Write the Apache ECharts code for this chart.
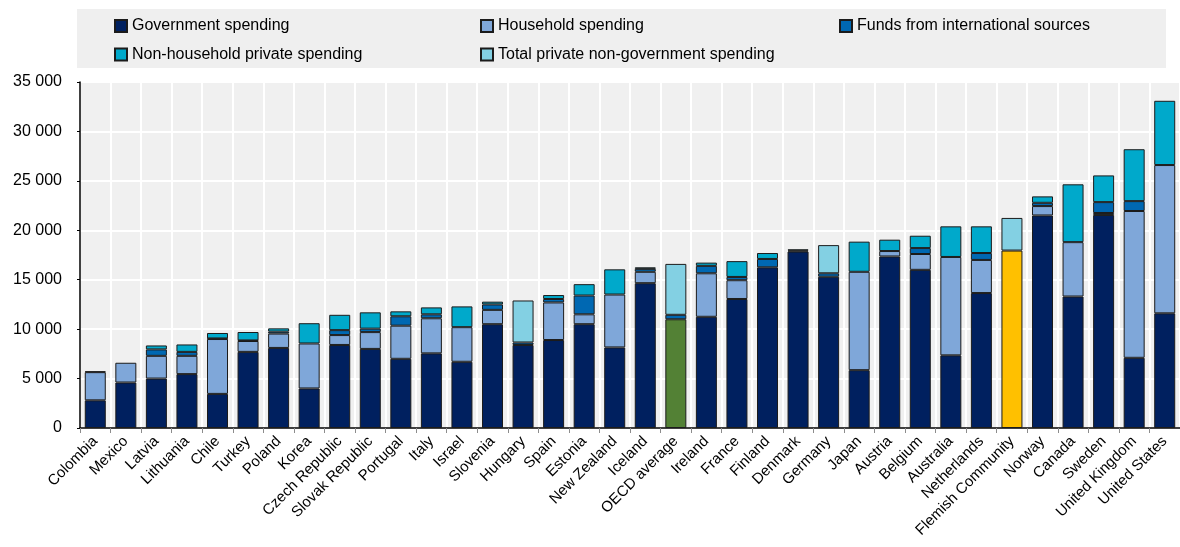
<!DOCTYPE html>
<html>
<head>
<meta charset="utf-8">
<script src="https://cdn.jsdelivr.net/npm/echarts@6/dist/echarts.min.js"></script>
<style>
  html, body { margin: 0; padding: 0; background: #fff; }
  #chart { width: 1180px; height: 547px; }
</style>
</head>
<body>
<div id="chart"></div>
<script>
// categories, left to right
var countries = ['Colombia', 'Mexico', 'Latvia', 'Lithuania', 'Chile', 'Turkey', 'Poland', 'Korea',
    'Czech Republic', 'Slovak Republic', 'Portugal', 'Italy', 'Israel', 'Slovenia', 'Hungary', 'Spain',
    'Estonia', 'New Zealand', 'Iceland', 'OECD average', 'Ireland', 'France', 'Finland', 'Denmark',
    'Germany', 'Japan', 'Austria', 'Belgium', 'Australia', 'Netherlands', 'Flemish Community', 'Norway',
    'Canada', 'Sweden', 'United Kingdom', 'United States'];

// series values
var govSpending = [2800, 4600, 5000, 5450, 3450, 7700, 8100, 4000, 8400, 8000, 7000, 7550, 6700, 10500, 8400, 8900,
    10500, 8150, 14650, 11000, 11250, 13050, 16250, 17850, 15300, 5850, 17350, 16000, 7350, 13650, 17950, 21500,
    13300, 21550, 7100, 11600];
var householdSpending = [2850, 2000, 2300, 1850, 5550, 1100, 1450, 4550, 1000, 1700, 3350, 3550, 3500, 1450, null, 3800,
    1000, 5350, 1150, null, 4400, 1900, null, null, null, 9950, 550, 1600, 9950, 3350, null, 950,
    5500, 200, 14850, 15000];
var intlFunds = [80, null, 650, 400, 60, 60, 200, null, 500, 350, 950, 400, null, 550, 250, 350,
    1900, null, 300, 450, 750, 330, 850, 100, 350, null, null, 600, null, 700, null, 330,
    null, 1100, 1000, null];
var nonHouseholdPrivate = [null, null, 400, 750, 550, 850, 330, 2050, 1550, 1650, 500, 700, 2100, 280, null, 400,
    1150, 2550, 150, null, 330, 1600, 600, 120, null, 3050, 1150, 1250, 3100, 2700, null, 650,
    5850, 2700, 5250, 6500];
var totalPrivateNonGov = [null, null, null, null, null, null, null, null, null, null, null, null, null, null, 4250, null,
    null, null, null, 5150, null, null, null, null, 2850, null, null, null, null, null, 3300, null,
    null, null, null, null];

// highlighted bars
var highlight = { 'OECD average': '#538135', 'Flemish Community': '#FFC000' };

var FONT = "'Liberation Sans', Arial, sans-serif";
var colGov = '#00205F';
var colHouse = '#7FA7D9';
var colFunds = '#0068B2';
var colNonHouse = '#00A9CB';
var colTotalPriv = '#83D0E3';

var myChart = echarts.init(document.getElementById('chart'));

function stackSeries(name, color, data) {
    return {
        name: name,
        type: 'bar',
        stack: 'total',
        barWidth: 21,
        itemStyle: { color: color, borderColor: '#1b1b1b', borderWidth: 1 },
        emphasis: { disabled: true },
        data: data
    };
}

var govData = govSpending.map(function (v, i) {
    var c = highlight[countries[i]];
    return c ? { value: v, itemStyle: { color: c } } : v;
});

var legendText = { fontFamily: FONT, fontSize: 16, color: '#000' };

function legendCol(left, names) {
    return {
        left: left, top: 13, orient: 'vertical', itemGap: 12.5,
        itemWidth: 12, itemHeight: 12, icon: 'rect',
        textStyle: legendText,
        data: names
    };
}

var option = {
    animation: false,
    backgroundColor: '#fff',
    textStyle: { fontFamily: FONT },
    graphic: [{
        type: 'rect',
        left: 77, top: 9,
        shape: { width: 1089, height: 59 },
        style: { fill: '#EFEFEF' },
        silent: true,
        z: -1
    }],
    legend: [
        legendCol(109, ['Government spending', 'Non-household private spending']),
        legendCol(475, ['Household spending', 'Total private non-government spending']),
        legendCol(834, ['Funds from international sources'])
    ],
    grid: {
        left: 80, right: 0, top: 82, bottom: 119,
        show: true, backgroundColor: '#F0F0F0', borderWidth: 0
    },
    xAxis: {
        type: 'category',
        data: countries,
        axisLine: { lineStyle: { color: '#000', width: 1.5 } },
        axisTick: { show: true, length: 5, lineStyle: { color: '#8c8c8c' } },
        splitLine: { show: true, lineStyle: { color: '#fff', width: 2 } },
        axisLabel: {
            rotate: 45, interval: 0, margin: 11,
            fontFamily: FONT, fontSize: 15, color: '#000'
        }
    },
    yAxis: {
        type: 'value',
        min: 0, max: 35000, interval: 5000,
        axisLine: { show: true, lineStyle: { color: '#000', width: 1.5 } },
        axisTick: { show: true, length: 3, lineStyle: { color: '#000' } },
        splitLine: { show: true, lineStyle: { color: '#fff', width: 2 } },
        axisLabel: {
            margin: 18, fontFamily: FONT, fontSize: 16, color: '#000',
            formatter: function (v) {
                return v >= 1000 ? Math.floor(v / 1000) + ' ' + ('00' + (v % 1000)).slice(-3) : String(v);
            }
        }
    },
    series: [
        stackSeries('Government spending', colGov, govData),
        stackSeries('Household spending', colHouse, householdSpending),
        stackSeries('Funds from international sources', colFunds, intlFunds),
        stackSeries('Non-household private spending', colNonHouse, nonHouseholdPrivate),
        stackSeries('Total private non-government spending', colTotalPriv, totalPrivateNonGov)
    ]
};

myChart.setOption(option);
</script>
</body>
</html>
